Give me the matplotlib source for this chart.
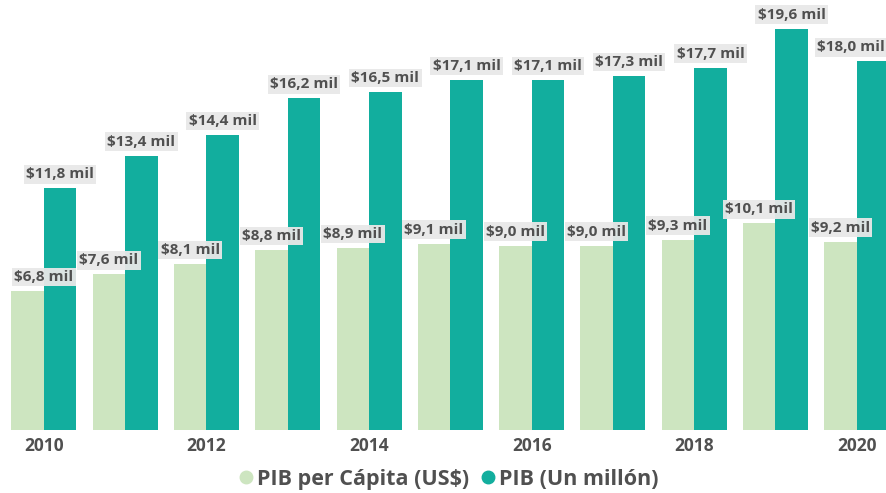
import matplotlib
matplotlib.use("Agg")
import matplotlib.pyplot as plt
from matplotlib.lines import Line2D
import numpy as np

years = [2010, 2011, 2012, 2013, 2014, 2015, 2016, 2017, 2018, 2019, 2020]
pib_per_capita = [6.8, 7.6, 8.1, 8.8, 8.9, 9.1, 9.0, 9.0, 9.3, 10.1, 9.2]
pib = [11.8, 13.4, 14.4, 16.2, 16.5, 17.1, 17.1, 17.3, 17.7, 19.6, 18.0]
series_names = ["PIB per Cápita (US$)", "PIB (Un millón)"]

c_light = "#CDE5C0"
c_teal = "#12AE9E"
c_text = "#505050"

plt.rcParams['font.family'] = ['Open Sans', 'DejaVu Sans']

fig = plt.figure(figsize=(8.86, 4.93), dpi=100)
ax = fig.add_axes([0, 1 - 430/493, 1, 430/493])

x = np.arange(len(years))
w = 0.4
ax.bar(x - w/2, pib_per_capita, w, color=c_light, zorder=1)
ax.bar(x + w/2, pib, w, color=c_teal, zorder=1)

ax.set_xlim(-0.54, 10.36)
ax.set_ylim(0, 21.0)

def fmt(v):
    return ("$%.1f mil" % v).replace('.', ',')

bbox = dict(boxstyle="square,pad=0.15", fc="#E8E8E8", ec="none", alpha=0.95)
n = len(years)
for i in range(n):
    for k, (xi, v) in enumerate(((x[i] - w/2, pib_per_capita[i]), (x[i] + w/2, pib[i]))):
        ha = 'center'
        xx = xi
        dx = 0
        if i == 0 and k == 0:
            ha = 'left'
            xx = xi - w/2
            dx = 2
        if i == n - 1 and k == 1:
            ha = 'right'
            xx = 10.36
            dx = -1
        ax.annotate(fmt(v), (xx, v), xytext=(dx, 5), textcoords='offset points',
                    ha=ha, va='bottom', fontsize=11, fontweight='bold',
                    color=c_text, bbox=bbox, zorder=3, annotation_clip=False)

ax.set_xticks(x[::2])
ax.set_xticklabels([str(y) for y in years[::2]], fontsize=12.5, fontweight='bold', color=c_text)
ax.tick_params(axis='x', length=0, pad=5)
ax.set_yticks([])
for s in ax.spines.values():
    s.set_visible(False)

handles = [Line2D([], [], marker='o', ls='none', color=c_light, markersize=9),
           Line2D([], [], marker='o', ls='none', color=c_teal, markersize=9)]
leg = fig.legend(handles, series_names, loc='center', bbox_to_anchor=(0.503, 0.028),
                 ncol=2, frameon=False, handletextpad=-0.1, columnspacing=0.3,
                 handlelength=1.2, prop=dict(size=15.5, weight='bold'))
for t in leg.get_texts():
    t.set_color(c_text)

fig.savefig("out.png", dpi=100)
